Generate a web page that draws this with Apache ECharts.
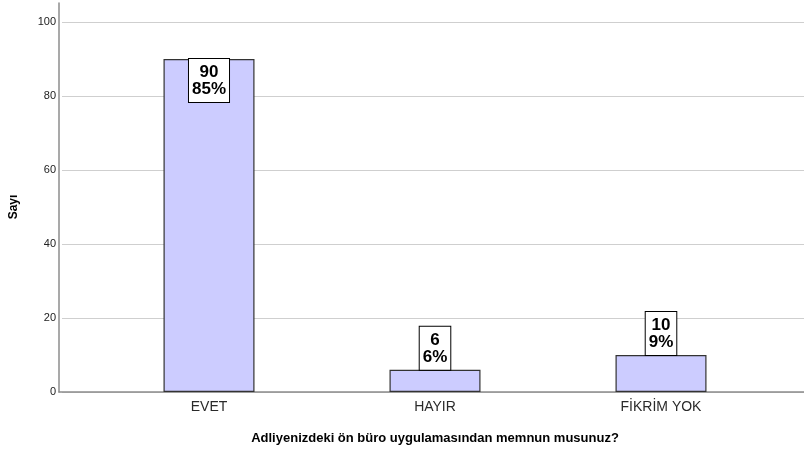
<!DOCTYPE html>
<html>
<head>
<meta charset="utf-8">
<script src="https://cdn.jsdelivr.net/npm/echarts@6/dist/echarts.min.js"></script>
<style>
    html, body { margin: 0; padding: 0; background: #fff; }
    #chart { width: 804px; height: 452px; }
</style>
</head>
<body>
<div id="chart"></div>
<script>
var categories = ['EVET', 'HAYIR', 'FİKRİM YOK'];
var counts = [90, 6, 10];
var percents = ['85%', '6%', '9%'];
var yTicks = { min: 0, max: 100, interval: 20 };
var yTitle = 'Sayı';
var xTitle = 'Adliyenizdeki ön büro uygulamasından memnun musunuz?';

var fontName = 'Liberation Sans, Arial, sans-serif';
var axisColor = '#8c8c8c';

var barData = [];
for (var i = 0; i < counts.length; i++) {
    // big bar keeps its label inside, small ones sit on top
    var inside = counts[i] > 50;
    barData.push({
        value: counts[i],
        label: {
            position: inside ? 'insideTop' : 'top',
            distance: 0
        }
    });
}

var chartDom = document.getElementById('chart');
var myChart = echarts.init(chartDom);
var option;

option = {
    animation: false,
    textStyle: { fontFamily: fontName },
    grid: [
        { left: 59, right: 0, top: 3, bottom: 60 },
        { left: 59, right: 0, top: 22, bottom: 60 },
        { left: 96, right: 30, top: 22, bottom: 60 }
    ],
    xAxis: [
        {
            gridIndex: 0, type: 'value', min: 0, max: 1,
            axisLine: { show: true, lineStyle: { color: axisColor, width: 1.5 } },
            axisTick: { show: false }, axisLabel: { show: false }, splitLine: { show: false }
        },
        {
            gridIndex: 1, type: 'value', min: 0, max: 1, show: false
        },
        {
            gridIndex: 2, type: 'category', data: categories,
            axisLine: { show: false }, axisTick: { show: false },
            axisLabel: { color: '#2a2a2a', fontSize: 14, margin: 8 },
            name: xTitle, nameLocation: 'middle', nameGap: 40,
            nameTextStyle: { color: '#000', fontSize: 13, fontWeight: 'bold' }
        }
    ],
    yAxis: [
        {
            gridIndex: 0, type: 'value', min: 0, max: 105,
            axisLine: { show: true, lineStyle: { color: axisColor, width: 1.5 } },
            axisTick: { show: false }, axisLabel: { show: false }, splitLine: { show: false }
        },
        {
            gridIndex: 1, type: 'value',
            min: yTicks.min, max: yTicks.max, interval: yTicks.interval,
            axisLine: { show: false }, axisTick: { show: false },
            axisLabel: { color: '#222', fontSize: 11, margin: 6 },
            splitLine: { show: true, lineStyle: { color: '#cfcfcf', width: 1 } },
            name: yTitle, nameLocation: 'middle', nameGap: 42,
            nameTextStyle: { color: '#000', fontSize: 12, fontWeight: 'bold' }
        },
        {
            gridIndex: 2, type: 'value', min: yTicks.min, max: yTicks.max, show: false
        }
    ],
    series: [{
        type: 'bar',
        xAxisIndex: 2,
        yAxisIndex: 2,
        data: barData,
        barWidth: 91,
        itemStyle: { color: '#ccccff', borderColor: '#333', borderWidth: 1.2 },
        label: {
            show: true,
            formatter: function (p) {
                return counts[p.dataIndex] + '\n' + percents[p.dataIndex];
            },
            color: '#000',
            fontSize: 17,
            fontWeight: 'bold',
            lineHeight: 17,
            backgroundColor: '#fff',
            borderColor: '#000',
            borderWidth: 1,
            padding: [5, 3, 4, 3]
        },
        z: 3
    }]
};

myChart.setOption(option);
</script>
</body>
</html>
